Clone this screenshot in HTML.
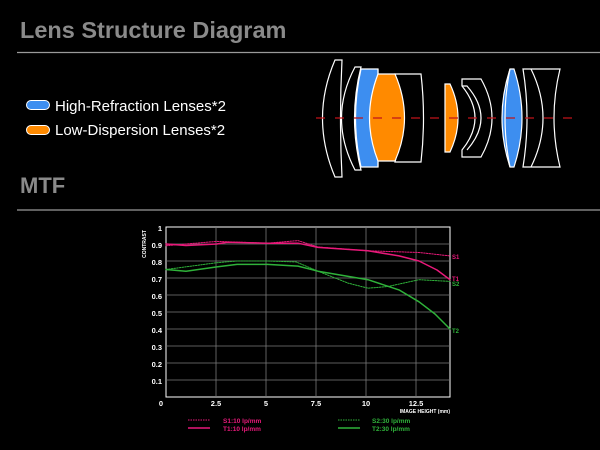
<!DOCTYPE html>
<html><head><style>
html,body{margin:0;padding:0;background:#000;}
svg{display:block}
text{font-family:"Liberation Sans",sans-serif;}
</style></head><body>
<svg width="600" height="450" viewBox="0 0 600 450" xmlns="http://www.w3.org/2000/svg">
<rect width="600" height="450" fill="#000"/>
<text x="20" y="38" font-size="23.5" font-weight="bold" fill="#8a8a8a">Lens Structure Diagram</text>
<line x1="17" y1="52.5" x2="600" y2="52.5" stroke="#9a9a9a" stroke-width="1.2"/>
<rect x="26.5" y="100.5" width="23" height="9" rx="4.5" fill="#3d8ef0" stroke="#fff" stroke-width="1"/>
<rect x="26.5" y="125.5" width="23" height="9" rx="4.5" fill="#ff8a00" stroke="#fff" stroke-width="1"/>
<text x="55" y="111" font-size="15" fill="#fff">High-Refraction Lenses*2</text>
<text x="55" y="135" font-size="15" fill="#fff">Low-Dispersion Lenses*2</text>
<text x="20" y="193" font-size="22" font-weight="bold" fill="#8a8a8a">MTF</text>
<line x1="17" y1="210" x2="600" y2="210" stroke="#9a9a9a" stroke-width="1.2"/>

<g fill="none" stroke="#fff" stroke-width="1.2">
<path d="M335,60 L342,60 Q339,118 342,177 L335,177 Q310,118 335,60Z"/>
<path d="M355,67 L361,67 Q348,118 361,170 L355,170 Q328,118 355,67Z"/>
<path d="M361,69 L378,69 L378,167 L361,167 Q350,118 361,69Z" fill="#3d8ef0"/>
<path d="M378,69 L378,74 Q365,118 378,161 L378,167" />
<path d="M395,74 L421,74 Q426,118 421,162 L395,162 Q407,118 395,74Z"/>
<path d="M378,74 L395,74 Q414,118 395,161 L378,161 Q361,118 378,74Z" fill="#ff8a00"/>
<path d="M445,84 L450,84 Q466,118 450,152 L445,152Z" fill="#ff8a00"/>
<path d="M462,79 L481,79 Q503,118 481,157 L462,157 L462,150 Q488,118 462,86Z"/>
<path d="M462,86 L467,86 Q495,118 467,150"/>
<path d="M510,69 L514,69 Q530,118 514,167 L510,167 Q494,118 510,69Z" fill="#3d8ef0"/>
<path d="M510,69 Q500,118 510,167"/>
<path d="M523,69 L560,69 Q548,118 560,167 L523,167 Q531,118 523,69Z"/>
<path d="M531,69 Q555,118 531,167"/>
</g>
<line x1="316" y1="118" x2="575" y2="118" stroke="#c0141b" stroke-width="1.3" stroke-dasharray="9,10"/>

<rect x="166" y="227" width="284" height="170" fill="#000" stroke="#fff" stroke-width="1"/>
<g stroke="#7a7a7a" stroke-width="0.8">
<line x1="166" y1="244" x2="450" y2="244"/><line x1="166" y1="261" x2="450" y2="261"/>
<line x1="166" y1="278" x2="450" y2="278"/><line x1="166" y1="295" x2="450" y2="295"/>
<line x1="166" y1="312" x2="450" y2="312"/><line x1="166" y1="329" x2="450" y2="329"/>
<line x1="166" y1="346" x2="450" y2="346"/><line x1="166" y1="363" x2="450" y2="363"/>
<line x1="166" y1="380" x2="450" y2="380"/>
<line x1="216" y1="227" x2="216" y2="397"/><line x1="266" y1="227" x2="266" y2="397"/>
<line x1="316" y1="227" x2="316" y2="397"/><line x1="366" y1="227" x2="366" y2="397"/>
<line x1="416" y1="227" x2="416" y2="397"/>
</g>
<g font-size="7.5" font-weight="bold" fill="#fff" text-anchor="end">
<text x="162" y="231">1</text><text x="162" y="248">0.9</text><text x="162" y="265">0.8</text>
<text x="162" y="282">0.7</text><text x="162" y="299">0.6</text><text x="162" y="316">0.5</text>
<text x="162" y="333">0.4</text><text x="162" y="350">0.3</text><text x="162" y="367">0.2</text>
<text x="162" y="384">0.1</text>
</g>
<g font-size="7.5" font-weight="bold" fill="#fff" text-anchor="middle">
<text x="161" y="406">0</text><text x="216" y="406">2.5</text><text x="266" y="406">5</text>
<text x="316" y="406">7.5</text><text x="366" y="406">10</text><text x="416" y="406">12.5</text>
</g>
<text x="146" y="244" font-size="5" font-weight="bold" fill="#fff" text-anchor="middle" transform="rotate(-90 146 244)">CONTRAST</text>
<text x="450" y="413" font-size="5" font-weight="bold" fill="#fff" text-anchor="end">IMAGE HEIGHT (mm)</text>

<g fill="none" stroke-linejoin="round" stroke-linecap="round">
<polyline stroke="#e8197a" stroke-width="1" stroke-dasharray="1.5,1.2" points="166,245.7 216.8,241.4 267.5,243.2 298,240.6 318,247 368,250.8 419,252.5 450,255.9"/>
<polyline stroke="#e8197a" stroke-width="1.5" points="166,244 186,245.5 216.8,244 227,242.3 267.5,243.2 298,243.2 318,247.4 368,250.8 399,255.9 419,261 437,270 450,279.7"/>
<polyline stroke="#2fb23a" stroke-width="1" stroke-dasharray="1.5,1.2" points="166,269.5 216.8,262.7 237,261 267.5,261 296,261.9 318,271.2 348,283.1 368,288.2 388,286.5 419,279.7 450,281.4"/>
<polyline stroke="#2fb23a" stroke-width="1.5" points="166,269.5 186,271.2 216.8,266.9 237,264.4 267.5,264.4 298,266.1 318,271.2 368,279.7 399,289.9 419,301.8 435,314 450,329"/>
</g>
<g font-size="6" font-weight="bold">
<text x="452" y="259" fill="#e8197a">S1</text>
<text x="452" y="281" fill="#e8197a">T1</text>
<text x="452" y="286" fill="#2fb23a">S2</text>
<text x="452" y="333" fill="#2fb23a">T2</text>
</g>
<line x1="188" y1="420" x2="210" y2="420" stroke="#e8197a" stroke-width="1" stroke-dasharray="1.5,1"/>
<line x1="188" y1="428" x2="210" y2="428" stroke="#e8197a" stroke-width="1.5"/>
<line x1="338" y1="420" x2="360" y2="420" stroke="#2fb23a" stroke-width="1" stroke-dasharray="1.5,1"/>
<line x1="338" y1="428" x2="360" y2="428" stroke="#2fb23a" stroke-width="1.5"/>
<g font-size="6.5" font-weight="bold">
<text x="223" y="423" fill="#e8197a">S1:10 lp/mm</text>
<text x="223" y="431" fill="#e8197a">T1:10 lp/mm</text>
<text x="372" y="423" fill="#2fb23a">S2:30 lp/mm</text>
<text x="372" y="431" fill="#2fb23a">T2:30 lp/mm</text>
</g>
</svg>
</body></html>
